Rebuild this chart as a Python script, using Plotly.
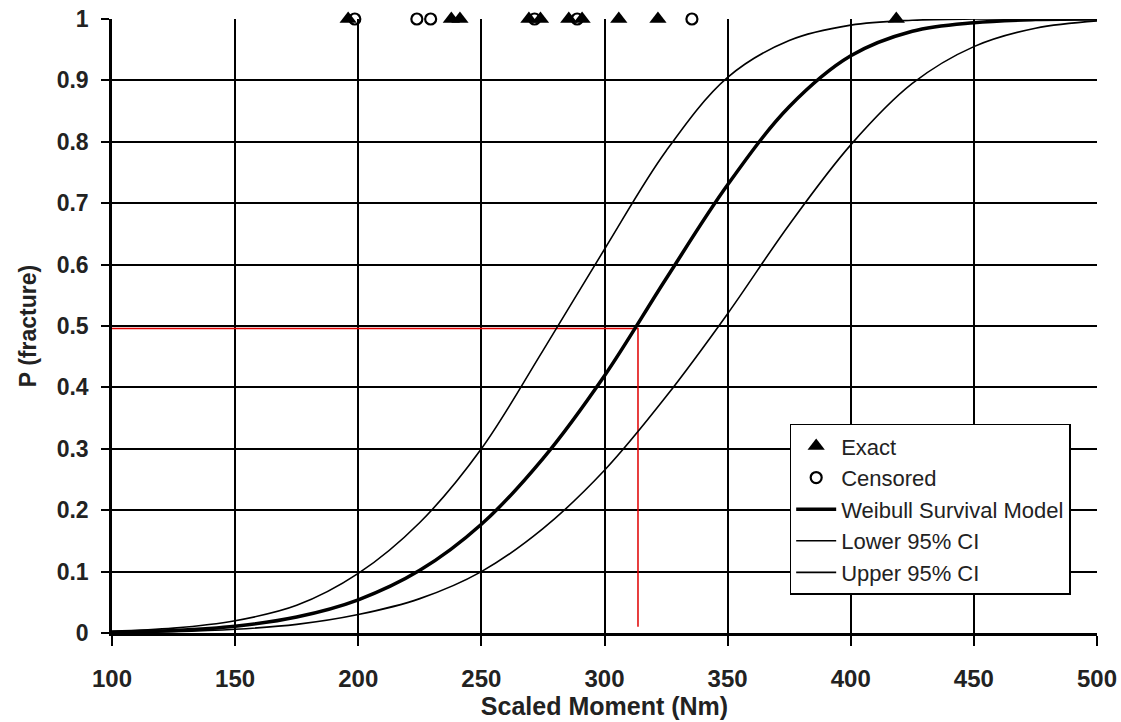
import plotly.graph_objects as go

# ---- data ----
moment = [100, 125, 150, 175, 200, 225, 250, 275, 300, 325, 350, 375, 400, 425, 450, 475, 500]
weibull_p = [0.001, 0.004, 0.011, 0.026, 0.054, 0.102, 0.177, 0.284, 0.419, 0.577, 0.73, 0.857, 0.94, 0.980, 0.994, 0.999, 1.0]
upper_ci_p = [0.003, 0.008, 0.02, 0.045, 0.097, 0.18, 0.30, 0.46, 0.625, 0.785, 0.905, 0.965, 0.99, 0.998, 1.0, 1.0, 1.0]
lower_ci_p = [0.0005, 0.002, 0.006, 0.014, 0.03, 0.056, 0.10, 0.17, 0.265, 0.385, 0.52, 0.665, 0.795, 0.895, 0.955, 0.985, 0.997]

exact_x = [195.9, 237.8, 241.3, 269.3, 274.0, 285.5, 290.9, 305.8, 321.7, 418.5]
exact_p = [1, 1, 1, 1, 1, 1, 1, 1, 1, 1]
censored_x = [198.6, 223.8, 229.4, 271.6, 288.9, 335.5]
censored_p = [1, 1, 1, 1, 1, 1]

median_line_x = [100, 313.6, 313.6]
median_line_p = [0.496, 0.496, 0.01]

x_ticks = [100, 150, 200, 250, 300, 350, 400, 450, 500]
y_ticks = [0, 0.1, 0.2, 0.3, 0.4, 0.5, 0.6, 0.7, 0.8, 0.9, 1]
y_tick_text = ["0", "0.1", "0.2", "0.3", "0.4", "0.5", "0.6", "0.7", "0.8", "0.9", "1"]

fig = go.Figure()

fig.add_trace(go.Scatter(x=median_line_x, y=median_line_p, mode="lines",
                         line=dict(color="#e00000", width=1.5), showlegend=False,
                         hoverinfo="skip"))

fig.add_trace(go.Scatter(x=moment, y=weibull_p, mode="lines", name="Weibull Survival Model",
                         line=dict(color="black", width=3.5, shape="spline", smoothing=1.0),
                         legendgroup="c", legendrank=3))
fig.add_trace(go.Scatter(x=moment, y=lower_ci_p, mode="lines", name="Lower 95% CI",
                         line=dict(color="black", width=1.6, shape="spline", smoothing=1.0),
                         legendgroup="d", legendrank=4))
fig.add_trace(go.Scatter(x=moment, y=upper_ci_p, mode="lines", name="Upper 95% CI",
                         line=dict(color="black", width=1.6, shape="spline", smoothing=1.0),
                         legendgroup="e", legendrank=5))

fig.add_trace(go.Scatter(x=exact_x, y=exact_p, mode="markers", name="Exact", cliponaxis=False,
                         marker=dict(symbol="triangle-up", size=15, color="black"),
                         legendgroup="a", legendrank=1))
fig.add_trace(go.Scatter(x=censored_x, y=censored_p, mode="markers", name="Censored", cliponaxis=False,
                         marker=dict(symbol="circle-open", size=11, color="black", line=dict(width=2.2)),
                         legendgroup="b", legendrank=2))

sans = "Liberation Sans, Arial, sans-serif"

fig.update_layout(
    width=1121, height=722,
    margin=dict(l=112, r=24, t=19, b=89, autoexpand=False),
    paper_bgcolor="white", plot_bgcolor="white",
    showlegend=True,
    legend=dict(
        x=0.688, y=0.341, xanchor="left", yanchor="top",
        bgcolor="white", bordercolor="black", borderwidth=1.5,
        font=dict(family=sans, size=22, color="#222"),
        tracegroupgap=12, itemwidth=40,
        traceorder="normal",
    ),
    xaxis=dict(
        range=[100, 500], tickvals=x_ticks, ticktext=[str(v) for v in x_ticks],
        automargin=False, ticklabeloverflow="allow",
        showgrid=True, gridcolor="black", gridwidth=1.5,
        showline=True, linecolor="black", linewidth=2.5,
        ticks="outside", ticklen=10, tickwidth=1.5, tickcolor="black",
        ticklabelstandoff=12,
        tickfont=dict(family=sans, size=24, color="#222", weight="bold"),
        title=dict(text="<b>Scaled Moment (Nm)</b>", font=dict(family=sans, size=25, color="#222"), standoff=2),
        zeroline=False,
    ),
    yaxis=dict(
        range=[0, 1], tickvals=y_ticks, ticktext=y_tick_text,
        automargin=False, ticklabeloverflow="allow",
        showgrid=True, gridcolor="black", gridwidth=1.5,
        showline=True, linecolor="black", linewidth=2.5,
        ticks="outside", ticklen=8, tickwidth=1.5, tickcolor="black",
        ticklabelstandoff=8,
        tickfont=dict(family=sans, size=23, color="#222", weight="bold"),
        title=dict(text="<b>P (fracture)</b>", font=dict(family=sans, size=23, color="#222"), standoff=14),
        zeroline=False,
    ),
)

fig.write_html("out.html",
               config={"displayModeBar": False},
               post_script="document.body.style.margin='0';document.body.style.overflow='hidden';")
